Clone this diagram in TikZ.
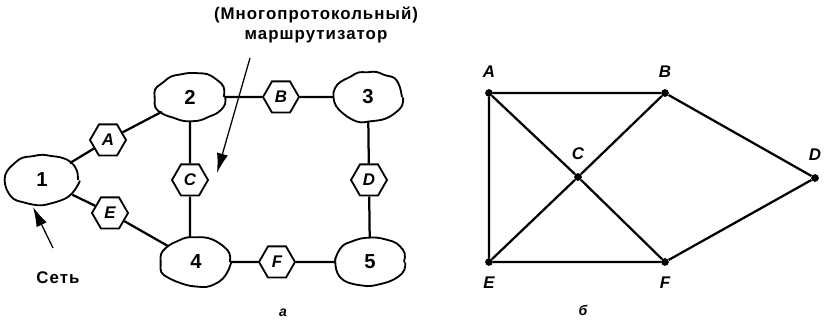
\documentclass[tikz,border=0pt]{standalone}
\usepackage{fontspec}
\setmainfont{Liberation Sans}
\usetikzlibrary{arrows.meta}
\usetikzlibrary{shapes.geometric}
\usetikzlibrary{positioning}
\usetikzlibrary{decorations.pathmorphing}

\begin{document}
\begin{tikzpicture}[>={Latex[length=14pt,width=8pt]},
    net/.style={ellipse, draw, line width=1.3pt, minimum width=1.7cm, minimum height=1.2cm, font=\bfseries\Large,
        decorate, decoration={random steps, segment length=7pt, amplitude=1.3pt}, rounded corners=3pt},
    router/.style={regular polygon, regular polygon sides=6, draw, line width=1.3pt, minimum size=0.9cm, inner sep=0pt, font=\bfseries\itshape\large},
    link/.style={line width=1.6pt},
    vertex/.style={circle, fill, inner sep=0pt, minimum size=5.5pt},
    vlabel/.style={font=\bfseries\itshape\large},
    note/.style={font=\bfseries\large\addfontfeatures{LetterSpace=6}, align=center}]
    \pgfmathsetseed{7}
    \useasboundingbox (0,0) rectangle (20.625,8.025);

    % Networks
    \node[net, minimum width=1.8cm, minimum height=1.25cm] (n1) at (1.05,3.525) {1};
    \node[net] (n2) at (4.75,5.6) {2};
    \node[net] (n3) at (9.2,5.6) {3};
    \node[net] (n4) at (4.9,1.475) {4};
    \node[net] (n5) at (9.25,1.475) {5};

    % Routers
    \node[router] (rA) at (2.7,4.525) {A};
    \node[router] (rB) at (7.025,5.6) {B};
    \node[router] (rC) at (4.75,3.525) {C};
    \node[router] (rD) at (9.225,3.525) {D};
    \node[router] (rE) at (2.75,2.7) {E};
    \node[router] (rF) at (6.925,1.475) {F};

    % Links
    \draw[link] (n1) -- (rA) -- (n2);
    \draw[link] (n1) -- (rE) -- (n4);
    \draw[link] (n2) -- (rB) -- (n3);
    \draw[link] (n2) -- (rC);
    \draw[link] (rC) -- (rC |- n4.north);
    \draw[link] (n3) -- (rD) -- (n5);
    \draw[link] (n4) -- (rF) -- (n5);

    % Notes
    \node[note] (mpr) at (7.9,7.4) {(Многопротокольный)\\маршрутизатор};
    \coordinate (mprtail) at (6.25,6.575);
    \draw[->, line width=0.9pt] (mprtail) -- (5.425,3.7);
    \node[note] (setlbl) at (1.45,1.075) {Сеть};
    \coordinate (settail) at (1.325,1.825);
    \draw[->, line width=0.9pt] (settail) -- (0.825,2.85);
    \node[font=\bfseries\itshape] (capa) at (7.075,0.2) {а};

    % Graph
    \node[vertex] (A) at (12.225,5.7) {};
    \node[vertex] (B) at (16.625,5.7) {};
    \node[vertex] (C) at (14.45,3.6) {};
    \node[vertex] (D) at (20.375,3.575) {};
    \node[vertex] (E) at (12.225,1.475) {};
    \node[vertex] (F) at (16.625,1.475) {};
    \draw[link] (A) -- (B) -- (D) -- (F) -- (E) -- (A);
    \draw[link] (A) -- (C) -- (F);
    \draw[link] (E) -- (C) -- (B);

    \node[vlabel, above=0.15cm of A] {A};
    \node[vlabel, above=0.15cm of B] {B};
    \node[vlabel, above=0.2cm of C] {C};
    \node[vlabel, above=0.2cm of D] {D};
    \node[vlabel, below=0.15cm of E] {E};
    \node[vlabel, below=0.15cm of F] {F};
    \node[font=\bfseries\itshape] (capb) at (14.575,0.275) {б};
\end{tikzpicture}
\end{document}
